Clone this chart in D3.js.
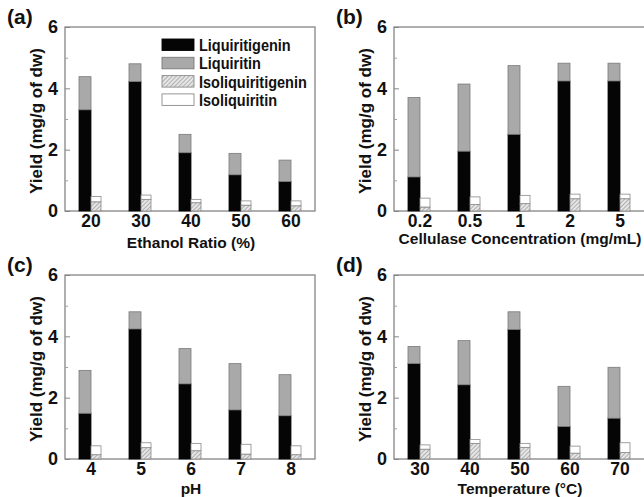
<!DOCTYPE html>
<html>
<head>
<meta charset="utf-8">
<script src="https://cdn.jsdelivr.net/npm/d3@7"></script>
<style>
body{margin:0;background:#fff}
svg text{font-family:"Liberation Sans",Arial,sans-serif;font-weight:bold;fill:#111}
</style>
</head>
<body>
<div id="root"></div>
<script>
const seriesNames = ["Liquiritigenin","Liquiritin","Isoliquiritigenin","Isoliquiritin"]
const yTicks = [0,2,4,6]
const yMinorTicks = [1,3,5]

// (a) ethanol ratio
const ethanolRatio = ["20","30","40","50","60"]
const ethanolLiquiritigenin = [3.30,4.22,1.90,1.18,0.96]
const ethanolLiquiritin = [1.08,0.58,0.60,0.70,0.70]
const ethanolIsoliquiritigenin = [0.30,0.38,0.27,0.19,0.17]
const ethanolIsoliquiritin = [0.17,0.14,0.11,0.14,0.16]

// (b) cellulase
const cellulaseConc = ["0.2","0.5","1","2","5"]
const cellulaseLiquiritigenin = [1.11,1.95,2.50,4.24,4.24]
const cellulaseLiquiritin = [2.59,2.19,2.24,0.58,0.58]
const cellulaseIsoliquiritigenin = [0.13,0.21,0.24,0.40,0.40]
const cellulaseIsoliquiritin = [0.29,0.25,0.27,0.15,0.15]

// (c) pH
const phValues = ["4","5","6","7","8"]
const phLiquiritigenin = [1.49,4.24,2.45,1.60,1.41]
const phLiquiritin = [1.40,0.56,1.15,1.51,1.34]
const phIsoliquiritigenin = [0.14,0.37,0.27,0.16,0.14]
const phIsoliquiritin = [0.29,0.16,0.24,0.32,0.29]

// (d) temperature
const temperature = ["30","40","50","60","70"]
const tempLiquiritigenin = [3.11,2.42,4.22,1.06,1.33]
const tempLiquiritin = [0.56,1.44,0.58,1.31,1.66]
const tempIsoliquiritigenin = [0.32,0.51,0.38,0.19,0.21]
const tempIsoliquiritin = [0.14,0.13,0.13,0.23,0.32]

const panels = [
  {label:"(a)", cats:ethanolRatio, title:"Ethanol Ratio (%)",
   vals:[ethanolLiquiritigenin,ethanolLiquiritin,ethanolIsoliquiritigenin,ethanolIsoliquiritin],
   left:65, top:27, right:315, titleY:37, legend:true},
  {label:"(b)", cats:cellulaseConc, title:"Cellulase Concentration (mg/mL)",
   vals:[cellulaseLiquiritigenin,cellulaseLiquiritin,cellulaseIsoliquiritigenin,cellulaseIsoliquiritin],
   left:394, top:27, right:650, titleY:33},
  {label:"(c)", cats:phValues, title:"pH",
   vals:[phLiquiritigenin,phLiquiritin,phIsoliquiritigenin,phIsoliquiritin],
   left:65, top:275, right:315, titleY:35},
  {label:"(d)", cats:temperature, title:"Temperature (\u00B0C)",
   vals:[tempLiquiritigenin,tempLiquiritin,tempIsoliquiritigenin,tempIsoliquiritin],
   left:394, top:275, right:650, titleY:35}
]

const W = 644, H = 497, plotW = 250, plotH = 184
const fills = ["#050505","#a9a9a9","url(#hatch)","#ffffff"]
const strokes = ["#050505","#7a7a7a","#8a8a8a","#8a8a8a"]

const svg = d3.select("#root").append("svg")
  .attr("width", W).attr("height", H)

const pat = svg.append("defs").append("pattern")
  .attr("id","hatch").attr("patternUnits","userSpaceOnUse")
  .attr("width",3).attr("height",3)
  .attr("patternTransform","rotate(45)")
pat.append("rect").attr("width",3).attr("height",3).attr("fill","#e6e6e6")
pat.append("line").attr("x1",0).attr("y1",0).attr("x2",0).attr("y2",3)
  .attr("stroke","#8c8c8c").attr("stroke-width",1.2)

panels.forEach(p => {
  const bottom = p.top + plotH
  const g = svg.append("g")
  const x = d3.scaleBand().domain(p.cats).range([p.left+1, p.left+1+plotW])
  const y = d3.scaleLinear().domain([0,6]).range([bottom, p.top])

  const rows = p.cats.map((c,i) => ({cat:c, s0:p.vals[0][i], s1:p.vals[1][i], s2:p.vals[2][i], s3:p.vals[3][i]}))
  const mainStack = d3.stack().keys(["s0","s1"])(rows)
  const isoStack = d3.stack().keys(["s2","s3"])(rows)

  // frame
  g.append("rect").attr("x",p.left).attr("y",p.top)
    .attr("width",p.right-p.left).attr("height",plotH)
    .attr("fill","none").attr("stroke","#858585").attr("stroke-width",1.3)

  const bw = 12, sw = 10
  mainStack.forEach((layer,k) => {
    g.selectAll(null).data(layer).enter().append("rect")
      .attr("x", d => x(d.data.cat) + x.bandwidth()/2 - bw)
      .attr("y", d => y(d[1]))
      .attr("width", bw)
      .attr("height", d => y(d[0]) - y(d[1]))
      .attr("fill", fills[k]).attr("stroke", strokes[k]).attr("stroke-width",0.8)
  })
  isoStack.forEach((layer,k) => {
    g.selectAll(null).data(layer).enter().append("rect")
      .attr("x", d => x(d.data.cat) + x.bandwidth()/2)
      .attr("y", d => y(d[1]))
      .attr("width", sw)
      .attr("height", d => y(d[0]) - y(d[1]))
      .attr("fill", fills[k+2]).attr("stroke", strokes[k+2]).attr("stroke-width",0.8)
  })

  // y axis, ticks inward
  const ya = g.append("g").attr("transform",`translate(${p.left},0)`)
    .call(d3.axisLeft(y).tickValues(yTicks).tickSize(-5).tickPadding(7).tickFormat(d3.format("d")))
  ya.select(".domain").remove()
  ya.selectAll("line").attr("stroke","#858585")
  ya.selectAll("text").style("font-size","18px").attr("fill","#111")
  const ym = g.append("g").attr("transform",`translate(${p.left},0)`)
    .call(d3.axisLeft(y).tickValues(yMinorTicks).tickSize(-3).tickFormat(""))
  ym.select(".domain").remove()
  ym.selectAll("line").attr("stroke","#a0a0a0")

  // x axis labels
  const xa = g.append("g").attr("transform",`translate(0,${bottom})`)
    .call(d3.axisBottom(x).tickSize(0).tickPadding(4))
  xa.select(".domain").remove()
  xa.selectAll("text").style("font-size","17.5px").attr("fill","#111")

  g.append("text").attr("x", p.left + plotW/2 + 1).attr("y", bottom + p.titleY)
    .attr("text-anchor","middle").style("font-size","15.5px").text(p.title)

  g.append("text")
    .attr("transform",`translate(${p.left-29},${p.top+plotH/2+2}) rotate(-90)`)
    .attr("text-anchor","middle").attr("dy","0.35em")
    .style("font-size","17px").text("Yield (mg/g of dw)")

  g.append("text").attr("x", p.left-58).attr("y", p.top-3)
    .style("font-size","21px").text(p.label)

  if(p.legend){
    const lg = g.append("g").attr("transform","translate(162,39)")
    seriesNames.forEach((name,i) => {
      lg.append("rect").attr("x",0).attr("y",i*18.3).attr("width",32).attr("height",11.5)
        .attr("fill",fills[i]).attr("stroke",strokes[i]).attr("stroke-width",0.9)
      lg.append("text").attr("transform",`translate(37,${i*18.3+12}) scale(1,1.12)`)
        .style("font-size","14.5px").text(name)
    })
  }
})
</script>
</body>
</html>
